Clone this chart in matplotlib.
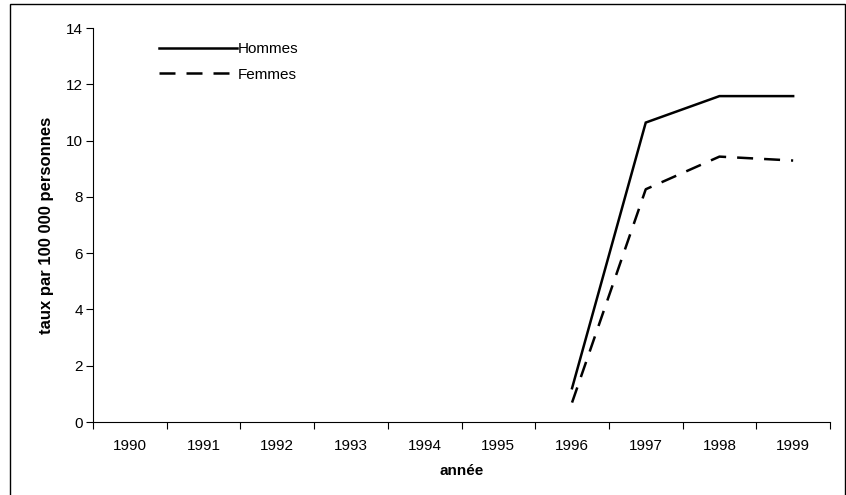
import matplotlib
matplotlib.use("Agg")
import matplotlib.pyplot as plt
from matplotlib.patches import Rectangle
import numpy as np

plt.rcParams['font.family'] = ['Liberation Sans', 'DejaVu Sans']

years = ['1990', '1991', '1992', '1993', '1994', '1995', '1996', '1997', '1998', '1999']
hommes = [np.nan, np.nan, np.nan, np.nan, np.nan, np.nan, 1.2, 10.64, 11.58, 11.58]
femmes = [np.nan, np.nan, np.nan, np.nan, np.nan, np.nan, 0.69, 8.27, 9.43, 9.29]

W, H = 846, 495
fig = plt.figure(figsize=(W / 100, H / 100), dpi=100)
ax = fig.add_axes([93 / W, 1 - 422 / H, (830 - 93) / W, (422 - 28) / H])

x = np.arange(len(years))
ax.plot(x, hommes, color='black', lw=1.8, solid_joinstyle='miter', label='Hommes')
ax.plot(x, femmes, color='black', lw=1.8, linestyle=(0, (6.4, 4.4)), label='Femmes')

ax.set_xlim(-0.5, len(years) - 0.5)
ax.set_ylim(0, 14)
ax.set_yticks(np.arange(0, 15, 2))
ax.set_xticks(x)
ax.set_xticklabels(years)
ax.set_xticks(np.arange(-0.5, len(years), 1), minor=True)
ax.tick_params(axis='x', which='major', length=0, pad=12, labelsize=11)
ax.tick_params(axis='x', which='minor', length=5, width=0.8, direction='out')
ax.tick_params(axis='y', length=5, width=0.8, direction='out', labelsize=11, pad=2.2)

for s in ['top', 'right']:
    ax.spines[s].set_visible(False)
for s in ['left', 'bottom']:
    ax.spines[s].set_linewidth(0.8)

ax.set_xlabel('année', fontsize=11, fontweight='bold', labelpad=8)
ax.set_ylabel('taux par 100 000 personnes', fontsize=12, fontweight='bold', labelpad=8.5)

leg = ax.legend(loc='upper left', bbox_to_anchor=(60 / 737, 1 - 8 / 394), frameon=False,
                fontsize=11, handlelength=5.1, handletextpad=0.05, labelspacing=0.75,
                borderaxespad=0)

fig.patches.append(Rectangle((10 / W, -0.1), (845 - 10) / W, 1.1 - 4 / H,
                             transform=fig.transFigure, fill=False,
                             edgecolor='black', lw=1.0))

fig.savefig('out.png', dpi=100)
